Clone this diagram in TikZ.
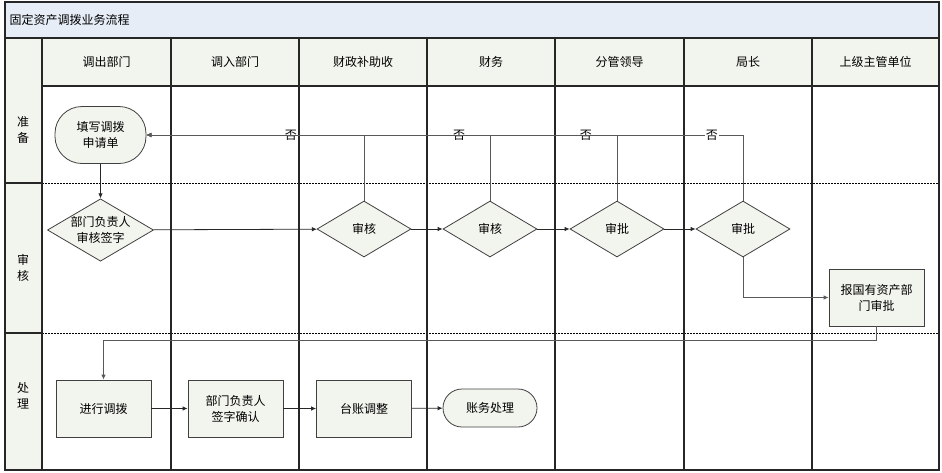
\documentclass[tikz,border=0pt]{standalone}
\usepackage{fontspec}
\setmainfont{Noto Sans CJK SC}
\usetikzlibrary{positioning,arrows.meta,shapes.geometric}
\definecolor{titlefill}{HTML}{E6EDF7}
\definecolor{cellfill}{HTML}{F2F5EE}

\begin{document}
\begin{tikzpicture}[x=1pt,y=-1pt,
            every node/.style={font=\fontsize{12}{16}\selectfont},
            >={Latex[length=5pt,width=4.5pt]},
            grid/.style={draw=black!85,line width=1.1pt},
            lanesep/.style={draw=black,line width=1pt,dash pattern=on 1.5pt off 1.5pt},
            proc/.style={draw=black!75,fill=cellfill,line width=0.8pt,
              minimum width=95pt,minimum height=57pt,align=center,inner sep=1pt},
            term/.style={proc,rounded corners=27pt,minimum width=91pt},
            termsm/.style={proc,rounded corners=19pt,minimum width=94pt,minimum height=38pt},
            check/.style={diamond,draw=black!75,fill=cellfill,line width=0.8pt,
              minimum width=94pt,minimum height=56pt,aspect=1.7,inner sep=0pt,align=center},
            flow/.style={draw=black!85,line width=0.8pt,->},
            back/.style={draw=black!65,line width=0.8pt,->},
            no/.style={fill=white,inner sep=1pt}
            ]
  \useasboundingbox (0,0) rectangle (942,472);
  % backgrounds
  \fill[titlefill] (5,2) rectangle (939,38);
  \fill[cellfill] (42,38) rectangle (939,86);
  \fill[cellfill] (5,38) rectangle (42,470);
  % lanes
  \draw[lanesep] (42,183) -- (939,183);
  \draw[lanesep] (42,333) -- (939,333);
  \draw[grid] (5,183) -- (42,183) (5,333) -- (42,333);
  \draw[grid] (5,38) -- (939,38) (42,86) -- (939,86);
  \foreach \x in {42,171,299,427,555,684,812}
    \draw[grid] (\x,38) -- (\x,470);
  \draw[grid] (5,2) rectangle (939,470);
  % texts
  \node[anchor=west] (title) at (6,20) {固定资产调拨业务流程};
  \foreach \x/\t [count=\i] in {106.5/调出部门,235/调入部门,363/财政补助收,
      491/财务,619.5/分管领导,748/局长,875.5/上级主管单位}
    \node (head\i) at (\x,62) {\t};
  \node[align=center,font=\fontsize{12}{16}\selectfont] (prep) at (23,130) {准\\备};
  \node[align=center,font=\fontsize{12}{16}\selectfont] (audit) at (23,268) {审\\核};
  \node[align=center,font=\fontsize{12}{16}\selectfont] (deal) at (23,396) {处\\理};
  % nodes
  \node[term] (apply) at (100.5,135) {填写调拨\\申请单};
  \node[check,minimum width=101pt,minimum height=55pt] (sign) at (100.5,230) {部门负责人\\审核签字};
  \node[check] (chkA) at (364,229) {审核};
  \node[check] (chkB) at (490,229) {审核};
  \node[check] (apprA) at (617,229) {审批};
  \node[check] (apprB) at (743,229) {审批};
  \node[proc] (report) at (876.5,297.5) {报国有资产部\\门审批};
  \node[proc] (move) at (103.5,408.5) {进行调拨};
  \node[proc] (confirm) at (235.5,408.5) {部门负责人\\签字确认};
  \node[proc] (ledger) at (364,408.5) {台账调整};
  \node[termsm] (account) at (490,408) {账务处理};
  % connectors
  \draw[flow] (apply) -- (sign);
  \draw[flow] (sign) -- (chkA);
  \draw[flow] (chkA) -- (chkB);
  \draw[flow] (chkB) -- (apprA);
  \draw[flow] (apprA) -- (apprB);
  \draw[back] (chkA.north) |- node[no,pos=0.668] {否} (apply.east);
  \draw[back] (chkB.north) |- node[no,pos=0.545] {否} (apply.east);
  \draw[back] (apprA.north) |- node[no,pos=0.533] {否} (apply.east);
  \draw[back] (apprB.north) |- node[no,pos=0.526] {否} (apply.east);
  \draw[back] (apprB.south) |- (report.west);
  \draw[back] (report.south) -- ++(0,13.5) -| (move.north);
  \draw[flow] (move) -- (confirm);
  \draw[flow] (confirm) -- (ledger);
  \draw[flow] (ledger) -- (account);
\end{tikzpicture}
\end{document}
